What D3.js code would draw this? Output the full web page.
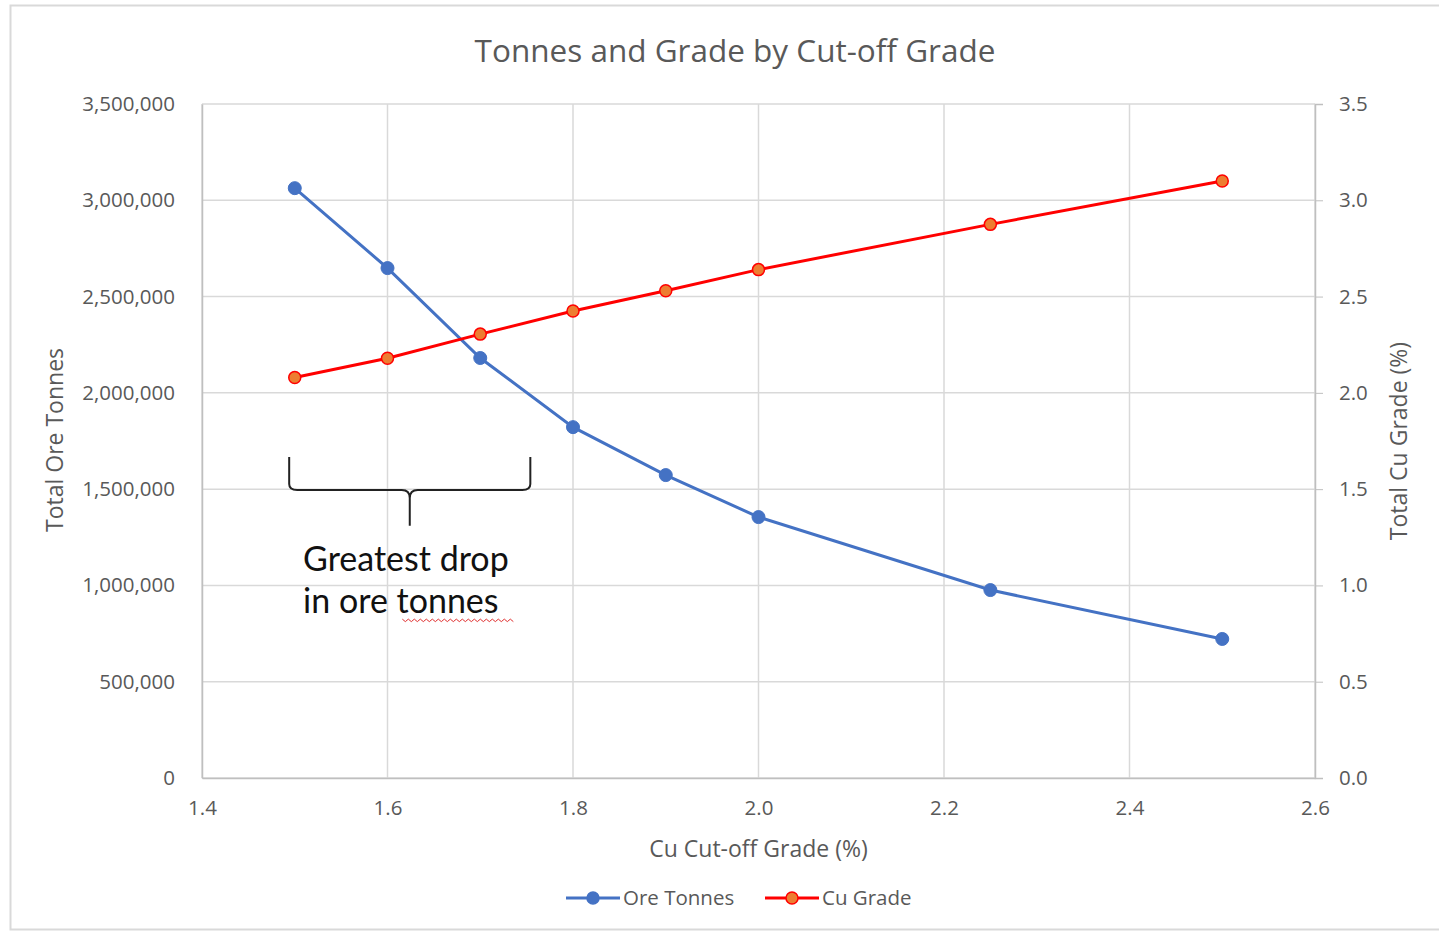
<!DOCTYPE html>
<html><head><meta charset="utf-8">
<script src="https://cdn.jsdelivr.net/npm/d3@7"></script>
<style>body{margin:0;background:#fff;} text{font-family:"Open Sans","Noto Sans",sans-serif;}</style>
</head><body><svg id="c" width="1439" height="933"></svg>
<script>
const cutoff = [1.5, 1.6, 1.7, 1.8, 1.9, 2.0, 2.25, 2.5];
const oreTonnes = [3063000, 2648000, 2181000, 1822000, 1573000, 1355000, 976000, 722000];
const cuGrade = [2.08, 2.18, 2.305, 2.425, 2.53, 2.64, 2.875, 3.10];
const xTicks = [1.4, 1.6, 1.8, 2.0, 2.2, 2.4, 2.6];
const yLeftTicks = [0, 500000, 1000000, 1500000, 2000000, 2500000, 3000000, 3500000];
const yRightTicks = [0, 0.5, 1.0, 1.5, 2.0, 2.5, 3.0, 3.5];
const seriesNames = ["Ore Tonnes", "Cu Grade"];
const title = "Tonnes and Grade by Cut-off Grade";
const annotationLines = ["Greatest drop", "in ore tonnes"];

const svg = d3.select("#c");
const L = 202, R = 1315, T = 104, B = 778;
const x = d3.scaleLinear().domain([1.4, 2.6]).range([L, R]);
const yL = d3.scaleLinear().domain([0, 3500000]).range([B, T]);
const yR = d3.scaleLinear().domain([0, 3.5]).range([B, T]);
const grid = "#d9d9d9", txt = "#595959";

// outer frame
svg.append("rect").attr("x", 10.5).attr("y", 5.5).attr("width", 1440).attr("height", 924)
  .attr("fill", "#fff").attr("stroke", "#d9d9d9").attr("stroke-width", 2);

// gridlines
svg.append("g").selectAll("line").data(yLeftTicks).join("line")
  .attr("x1", L).attr("x2", R).attr("y1", d => yL(d)).attr("y2", d => yL(d))
  .attr("stroke", grid).attr("stroke-width", 1.5);
svg.append("g").selectAll("line").data(xTicks).join("line")
  .attr("x1", d => x(d)).attr("x2", d => x(d)).attr("y1", T).attr("y2", B)
  .attr("stroke", grid).attr("stroke-width", 1.5);

// axes
const fmt = d3.format(",");
const gL = svg.append("g").attr("transform", `translate(${L},0)`)
  .call(d3.axisLeft(yL).tickValues(yLeftTicks).tickFormat(fmt).tickSize(0).tickPadding(27));
gL.select(".domain").attr("stroke", "#bfbfbf").attr("stroke-width", 1.5);
const gR = svg.append("g").attr("transform", `translate(${R},0)`)
  .call(d3.axisRight(yR).tickValues(yRightTicks).tickFormat(d3.format(".1f")).tickSize(8).tickPadding(16));
gR.select(".domain").attr("stroke", "#bfbfbf").attr("stroke-width", 1.5);
gR.selectAll(".tick line").attr("stroke", "#bfbfbf");
const gB = svg.append("g").attr("transform", `translate(0,${B})`)
  .call(d3.axisBottom(x).tickValues(xTicks).tickFormat(d3.format(".1f")).tickSize(0).tickPadding(22));
gB.select(".domain").attr("stroke", "#bfbfbf").attr("stroke-width", 1.5);
svg.selectAll(".tick text").attr("fill", txt).style("font-size", "20.5px").style("font-family", "'Open Sans',sans-serif");

// title & axis titles
svg.append("text").attr("x", 735).attr("y", 62).attr("text-anchor", "middle")
  .attr("fill", txt).style("font-size", "31.5px").text(title);
svg.append("text").attr("x", x(2.0)).attr("y", 857).attr("text-anchor", "middle")
  .attr("fill", txt).style("font-size", "23px").text("Cu Cut-off Grade (%)");
svg.append("text").attr("transform", `translate(63,${440}) rotate(-90)`).attr("text-anchor", "middle")
  .attr("fill", txt).style("font-size", "23px").text("Total Ore Tonnes");
svg.append("text").attr("transform", `translate(1407,${441}) rotate(-90)`).attr("text-anchor", "middle")
  .attr("fill", txt).style("font-size", "23px").text("Total Cu Grade (%)");

// lines
const blue = "#4472c4", red = "#ff0000", orange = "#ed7d31";
const lineL = d3.line().x((d, i) => x(cutoff[i])).y(d => yL(d));
const lineR = d3.line().x((d, i) => x(cutoff[i])).y(d => yR(d));
svg.append("path").attr("d", lineL(oreTonnes)).attr("fill", "none").attr("stroke", blue).attr("stroke-width", 3);
svg.append("path").attr("d", lineR(cuGrade)).attr("fill", "none").attr("stroke", red).attr("stroke-width", 3);
svg.append("g").selectAll("circle").data(oreTonnes).join("circle")
  .attr("cx", (d, i) => x(cutoff[i])).attr("cy", d => yL(d)).attr("r", 6.5)
  .attr("fill", blue).attr("stroke", blue).attr("stroke-width", 1);
svg.append("g").selectAll("circle").data(cuGrade).join("circle")
  .attr("cx", (d, i) => x(cutoff[i])).attr("cy", d => yR(d)).attr("r", 6)
  .attr("fill", orange).attr("stroke", red).attr("stroke-width", 1.5);

// annotation brace
const bx0 = x(1.494), bx1 = x(1.754), bxm = x(1.624);
const by0 = yL(1667000), by1 = yL(1495000), bym = yL(1310000);
const brace = d3.path();
brace.moveTo(bx0, by0); brace.lineTo(bx0, by1 - 6); brace.quadraticCurveTo(bx0, by1, bx0 + 8, by1);
brace.lineTo(bxm - 8, by1); brace.quadraticCurveTo(bxm, by1, bxm, by1 + 8); brace.lineTo(bxm, bym);
brace.moveTo(bxm, by1 + 8); brace.quadraticCurveTo(bxm, by1, bxm + 8, by1);
brace.lineTo(bx1 - 8, by1); brace.quadraticCurveTo(bx1, by1, bx1, by1 - 6); brace.lineTo(bx1, by0);
svg.append("path").attr("d", brace.toString()).attr("fill", "none").attr("stroke", "#222").attr("stroke-width", 2);
svg.append("g").selectAll("text").data(annotationLines).join("text")
  .attr("x", x(1.509)).attr("y", (d, i) => yL(i === 0 ? 1075000 : 855000))
  .attr("fill", "#111").style("font-size", "34px").style("font-family", "Lato,'Open Sans',sans-serif").text(d => d);
// spell-check squiggle under "tonnes"
const sq = d3.path();
const sx0 = x(1.616), sx1 = x(1.733), sy = yL(825000);
sq.moveTo(sx0, sy);
for (let px = sx0, k = 0; px < sx1; px += 3, k++) sq.lineTo(px + 3, sy + (k % 2 ? 0 : 2.5));
svg.append("path").attr("d", sq.toString()).attr("fill", "none").attr("stroke", "#e03030").attr("stroke-width", 1);

// legend
const lg = svg.append("g");
const legendItems = [
  { name: seriesNames[0], x: 566, stroke: blue, fill: blue },
  { name: seriesNames[1], x: 765, stroke: red, fill: orange }
];
legendItems.forEach(it => {
  lg.append("line").attr("x1", it.x).attr("x2", it.x + 54).attr("y1", 898).attr("y2", 898)
    .attr("stroke", it.stroke).attr("stroke-width", 3);
  lg.append("circle").attr("cx", it.x + 27).attr("cy", 898).attr("r", 6)
    .attr("fill", it.fill).attr("stroke", it.stroke).attr("stroke-width", 1.5);
  lg.append("text").attr("x", it.x + 57).attr("y", 905).attr("fill", txt)
    .style("font-size", "20.5px").text(it.name);
});
</script></body></html>
